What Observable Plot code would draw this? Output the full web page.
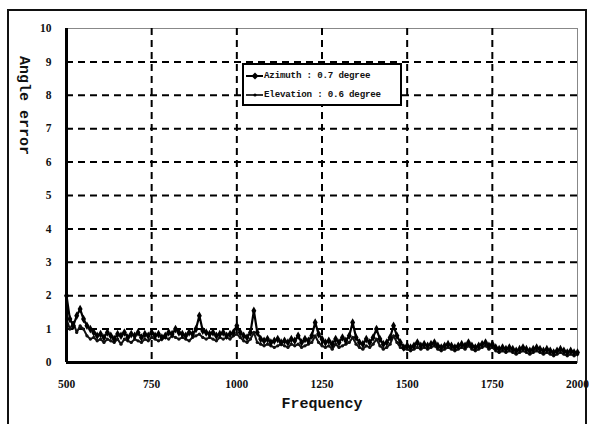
<!DOCTYPE html>
<html>
<head>
<meta charset="utf-8">
<script src="https://cdn.jsdelivr.net/npm/d3@7"></script>
<script src="https://cdn.jsdelivr.net/npm/@observablehq/plot@0.6"></script>
<style>
  html, body { margin: 0; padding: 0; background: #fff; }
  #wrap { position: relative; width: 589px; height: 424px; overflow: hidden; }
  #border { position: absolute; left: 7px; top: 9px; width: 580px; height: 430px; border: 2px solid #111; box-sizing: border-box; }
  #legend { position: absolute; left: 242px; top: 63px; width: 160px; height: 43px; background: #fff; border: 2.5px solid #000; box-sizing: border-box;
    font-family: "Liberation Mono", monospace; font-size: 9.2px; font-weight: bold; color: #111; letter-spacing: -0.2px; }
  #legend .row { position: absolute; left: 2px; display: flex; align-items: center; white-space: nowrap; }
  #legend svg { margin-right: 1px; }
</style>
</head>
<body>
<div id="wrap">
  <div id="border"></div>
  <div id="chart"></div>
  <div id="legend"></div>
</div>
<script>
const xTicks = [500, 750, 1000, 1250, 1500, 1750, 2000];
const yTicks = [0, 1, 2, 3, 4, 5, 6, 7, 8, 9, 10];
const seriesNames = ["Azimuth : 0.7 degree", "Elevation : 0.6 degree"];
const frequency = d3.range(500, 2001, 10);
const azimuth = [
  2.0, 1.3, 1.1, 1.4, 1.6, 1.3, 1.1, 1.0, 0.9, 0.8,
  0.85, 0.75, 0.9, 0.8, 0.7, 0.85, 0.8, 0.9, 0.75, 0.85,
  0.8, 0.9, 0.75, 0.85, 0.8, 0.9, 0.8, 0.85, 0.75, 0.8,
  0.9, 0.85, 1.0, 0.9, 0.85, 0.8, 0.9, 0.85, 1.0, 1.4,
  0.95, 0.9, 0.85, 0.9, 0.8, 0.85, 0.9, 0.8, 0.85, 0.9,
  1.1, 0.9, 0.8, 0.75, 0.9, 1.55, 0.9, 0.7, 0.65, 0.7,
  0.6, 0.65, 0.7, 0.6, 0.65, 0.6, 0.7, 0.65, 0.8, 0.6,
  0.7, 0.65, 0.8, 1.2, 0.85, 0.7, 0.6, 0.65, 0.55, 0.7,
  0.6, 0.75, 0.65, 0.8, 1.2, 0.75, 0.6, 0.55, 0.7, 0.6,
  0.75, 1.0, 0.7, 0.55, 0.6, 0.75, 1.1, 0.8, 0.6, 0.45,
  0.5, 0.45, 0.5, 0.6, 0.5, 0.55, 0.5, 0.55, 0.6, 0.5,
  0.45, 0.5, 0.55, 0.5, 0.45, 0.5, 0.55, 0.5, 0.6, 0.5,
  0.45, 0.5, 0.55, 0.6, 0.5, 0.55, 0.45, 0.4, 0.45, 0.4,
  0.45, 0.4, 0.35, 0.4, 0.45, 0.4, 0.35, 0.4, 0.45, 0.4,
  0.35, 0.4, 0.35, 0.3, 0.35, 0.4, 0.35, 0.3, 0.35, 0.3,
  0.3
];
const elevation = [
  1.3, 1.0, 1.2, 0.9, 1.1, 1.0, 0.8, 0.7, 0.75, 0.65,
  0.7, 0.6, 0.7, 0.65, 0.6, 0.7, 0.55, 0.7, 0.65, 0.6,
  0.7, 0.65, 0.6, 0.7, 0.65, 0.75, 0.7, 0.65, 0.7, 0.75,
  0.7, 0.8, 0.75, 0.7, 0.75, 0.7, 0.65, 0.75, 0.8, 0.85,
  0.75, 0.7, 0.75, 0.7, 0.65, 0.75, 0.7, 0.75, 0.7, 0.8,
  0.85, 0.75, 0.65, 0.6, 0.7, 0.9, 0.6, 0.55, 0.5, 0.55,
  0.5, 0.45, 0.5, 0.55, 0.5, 0.45, 0.55, 0.5, 0.55, 0.45,
  0.5, 0.55, 0.6, 0.8, 0.6, 0.5, 0.45, 0.5, 0.4, 0.55,
  0.45, 0.5, 0.55, 0.6, 0.75, 0.55, 0.45, 0.4, 0.5, 0.45,
  0.55, 0.7, 0.5, 0.4, 0.45, 0.55, 0.8, 0.6, 0.45, 0.4,
  0.4, 0.35, 0.4, 0.45, 0.4, 0.45, 0.4, 0.45, 0.5, 0.4,
  0.35, 0.4, 0.45, 0.4, 0.35, 0.4, 0.45, 0.4, 0.5, 0.4,
  0.35, 0.4, 0.45, 0.5, 0.4, 0.45, 0.35, 0.3, 0.35, 0.3,
  0.35, 0.3, 0.25, 0.3, 0.35, 0.3, 0.25, 0.3, 0.35, 0.3,
  0.25, 0.3, 0.25, 0.2, 0.25, 0.3, 0.25, 0.2, 0.25, 0.2,
  0.25
];

const azData = frequency.map((f, i) => ({f, v: azimuth[i]}));
const elData = frequency.map((f, i) => ({f, v: elevation[i]}));

const tickFont = {fontSize: 11.5, fontWeight: "bold", fontFamily: "Liberation Serif, serif"};
const gridStyle = {stroke: "#000", strokeOpacity: 1, strokeWidth: 2, strokeDasharray: "7,5"};

const chart = Plot.plot({
  width: 589,
  height: 424,
  marginLeft: 66,
  marginTop: 28,
  marginRight: 12,
  marginBottom: 62,
  style: {background: "transparent", color: "#111"},
  x: {domain: [500, 2000], label: null},
  y: {domain: [0, 10], label: null},
  marks: [
    Plot.frame({stroke: "#888", strokeWidth: 1}),
    Plot.gridX(xTicks.slice(1, -1), gridStyle),
    Plot.gridY(yTicks.slice(1, -1), gridStyle),
    Plot.axisX(xTicks, {tickSize: 0, tickPadding: 17, tickFormat: d3.format("d"), label: null, ...tickFont}),
    Plot.axisY(yTicks, {tickSize: 0, tickPadding: 15, tickFormat: d3.format("d"), label: null, ...tickFont}),
    Plot.line(elData, {x: "f", y: "v", stroke: "#111", strokeWidth: 2}),
    Plot.dot(elData, {x: "f", y: "v", r: 1.6, fill: "#111", stroke: "none"}),
    Plot.line(azData, {x: "f", y: "v", stroke: "#000", strokeWidth: 2.2}),
    Plot.dot(azData, {x: "f", y: "v", symbol: "diamond", r: 2.6, fill: "#000", stroke: "none"}),
    Plot.ruleY([0], {stroke: "#000", strokeWidth: 3}),
    Plot.ruleX([500], {stroke: "#000", strokeWidth: 3}),
    Plot.text(["Frequency"], {frameAnchor: "bottom", dy: 45, textAnchor: "middle", fontSize: 15, fontWeight: "bold", fontFamily: "Liberation Mono, monospace", fill: "#111"}),
    Plot.text(["Angle error"], {frameAnchor: "top-left", dx: -36, dy: 77, textAnchor: "middle", rotate: 90, fontSize: 15, fontWeight: "bold", fontFamily: "Liberation Mono, monospace", fill: "#111"})
  ]
});
document.getElementById("chart").appendChild(chart);

// legend
const legend = d3.select("#legend");
seriesNames.forEach((name, i) => {
  const row = legend.append("div").attr("class", "row").style("top", (i === 0 ? 5 : 24) + "px");
  const s = row.append("svg").attr("width", 17).attr("height", 10);
  s.append("line").attr("x1", 0).attr("x2", 17).attr("y1", 5).attr("y2", 5)
    .attr("stroke", "#000").attr("stroke-width", i === 0 ? 2 : 1.6);
  if (i === 0) {
    s.append("path").attr("d", "M9,1.5L12.5,5L9,8.5L5.5,5Z").attr("fill", "#000");
  } else {
    s.append("circle").attr("cx", 9).attr("cy", 5).attr("r", 1.6).attr("fill", "#000");
  }
  row.append("span").text(name);
});
</script>
</body>
</html>
